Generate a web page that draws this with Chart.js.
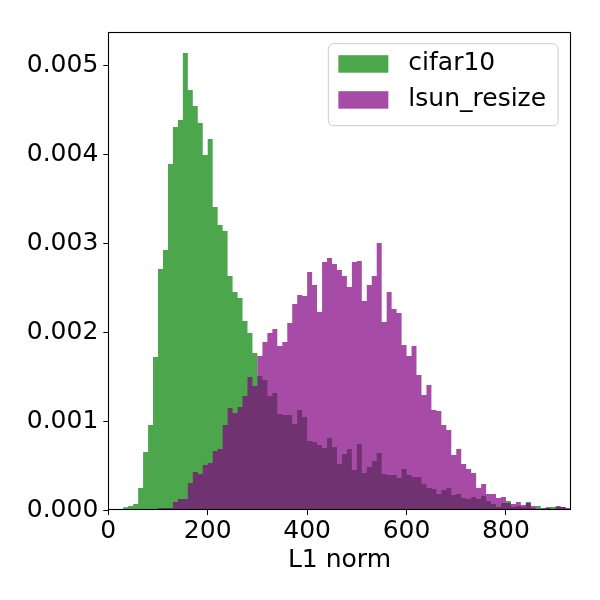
<!DOCTYPE html>
<html>
<head>
<meta charset="utf-8">
<style>
  html, body { margin: 0; padding: 0; background: #ffffff; }
  #wrap { width: 600px; height: 600px; position: relative; }
</style>
<script src="https://cdn.jsdelivr.net/npm/chart.js@4.4.1/dist/chart.umd.min.js"></script>
</head>
<body>
<div id="wrap"><canvas id="c" width="600" height="600"></canvas></div>
<script>
// ---- data ----
const binLeftEdges = [0,10,20,30,40,50,60,70,80,90,100,110,120,130,140,150,160,170,180,190,
  200,210,220,230,240,250,260,270,280,290,300,310,320,330,340,350,360,370,380,390,
  400,410,420,430,440,450,460,470,480,490,500,510,520,530,540,550,560,570,580,590,
  600,610,620,630,640,650,660,670,680,690,700,710,720,730,740,750,760,770,780,790,
  800,810,820,830,840,850,860,870,880,890,900,910,920];
const lastBinRightEdge = 930;

const cifar10 = [0,0,0,0.00003,0.000045,0.000068,0.000248,0.000653,0.000957,0.001723,
  0.002714,0.002928,0.003896,0.004313,0.004392,0.005146,0.00473,0.00455,0.004358,0.003998,
  0.004178,0.003412,0.003209,0.003142,0.002635,0.002455,0.002387,0.002128,0.001993,0.001768,
  0.001509,0.001464,0.001284,0.001318,0.001081,0.00107,0.00107,0.000968,0.001126,0.001047,
  0.000777,0.000766,0.000732,0.000698,0.000811,0.00071,0.000518,0.000631,0.000687,0.00045,
  0.000743,0.000417,0.000484,0.000552,0.000642,0.000405,0.000394,0.000394,0.00036,0.000462,
  0.000394,0.000372,0.000372,0.000293,0.000248,0.000236,0.00018,0.000225,0.000248,0.000169,
  0.00018,0.000135,0.000124,0.000146,0.000124,0.000158,0.000101,0.000068,0.000034,0.000079,
  0.000101,0.000034,0.000045,0.000034,0.00009,0.0000225,0.000045,0.00002,0.000034,0.000034,
  0.000034,0.000034,0];

const lsunResize = [0,0,0,0,0,0,0,0,0.000011,0,
  0.0000225,0.0000225,0.0000225,0.00009,0.000124,0.000124,0.000304,0.000428,0.000405,0.000507,
  0.000529,0.000664,0.000687,0.000957,0.001149,0.001092,0.00116,0.001284,0.001498,0.001396,
  0.001734,0.001892,0.001993,0.002038,0.001847,0.001892,0.002106,0.00232,0.002421,0.00241,
  0.00268,0.002534,0.00223,0.002793,0.002838,0.00277,0.002703,0.002635,0.002511,0.002793,
  0.002804,0.002354,0.002534,0.002635,0.003007,0.002117,0.002455,0.002264,0.002218,0.001858,
  0.001734,0.001847,0.00152,0.001295,0.001408,0.001126,0.001115,0.000957,0.000901,0.000619,
  0.000687,0.000518,0.000462,0.000417,0.000248,0.000293,0.00018,0.00018,0.000135,0.000146,
  0.000079,0.000068,0.00009,0.000056,0.000079,0.000045,0.00001,0.00002,0.0000225,0.00001,
  0.000045,0.000034,0.0000225];

const seriesNames = ['cifar10', 'lsun_resize'];
const xTickValues = [0, 200, 400, 600, 800];
const yTickValues = [0, 0.001, 0.002, 0.003, 0.004, 0.005];
const xAxisTitle = 'L1 norm';
const xMin = 0, xMax = 930;
const yMin = 0, yMax = 0.005386;

// ---- build step-histogram series ----
function histPoints(values) {
  const pts = binLeftEdges.map((x, i) => ({ x: x, y: values[i] }));
  pts.push({ x: lastBinRightEdge, y: values[values.length - 1] });
  return pts;
}

const FONT = '"DejaVu Sans", "Liberation Sans", sans-serif';
const FS = 25;
Chart.defaults.font.family = FONT;
Chart.defaults.font.size = FS;
Chart.defaults.color = '#000000';

const framePlugin = {
  id: 'frame',
  afterDatasetsDraw(chart) {
    const { ctx, chartArea: a } = chart;
    ctx.save();
    ctx.strokeStyle = '#000000';
    ctx.lineWidth = 1.1;
    const l = Math.round(a.left) + 0.5, t = Math.round(a.top) + 0.5;
    const r = Math.round(a.right) - 0.5, b = Math.round(a.bottom) - 0.5;
    ctx.strokeRect(l, t, r - l, b - t);
    ctx.restore();
  }
};

const legendPlugin = {
  id: 'mplLegend',
  afterDraw(chart) {
    const { ctx, chartArea: a } = chart;
    const ds = chart.data.datasets;
    ctx.save();
    ctx.font = FS + 'px ' + FONT;
    const tw = Math.max(...ds.map(d => ctx.measureText(d.label).width));
    const pad = 0.4 * FS, hl = 2 * FS, hp = 0.8 * FS, ls = 0.5 * FS, axpad = 0.5 * FS;
    const rowH = 23.5;
    const w = pad + hl + hp + tw + pad + 2;
    const h = 2 * pad + ds.length * rowH + (ds.length - 1) * ls + 2.5;
    const x = a.right - axpad - w;
    const y = a.top + axpad - 0.5;
    // box
    const rr = 0.2 * FS;
    ctx.beginPath();
    ctx.moveTo(x + rr, y);
    ctx.lineTo(x + w - rr, y);
    ctx.arcTo(x + w, y, x + w, y + rr, rr);
    ctx.lineTo(x + w, y + h - rr);
    ctx.arcTo(x + w, y + h, x + w - rr, y + h, rr);
    ctx.lineTo(x + rr, y + h);
    ctx.arcTo(x, y + h, x, y + h - rr, rr);
    ctx.lineTo(x, y + rr);
    ctx.arcTo(x, y, x + rr, y, rr);
    ctx.closePath();
    ctx.fillStyle = 'rgba(255,255,255,0.8)';
    ctx.fill();
    ctx.strokeStyle = '#cccccc';
    ctx.lineWidth = 1;
    ctx.stroke();
    // entries
    ds.forEach((d, i) => {
      const cy = y + pad + rowH / 2 - 1.5 + i * (rowH + ls);
      const ph = 0.7 * FS;
      ctx.fillStyle = d.backgroundColor;
      ctx.fillRect(x + pad, cy - ph / 2, hl, ph);
      ctx.fillStyle = '#000000';
      ctx.textAlign = 'left';
      ctx.textBaseline = 'middle';
      ctx.fillText(d.label, x + pad + hl + hp, cy);
    });
    ctx.restore();
  }
};

new Chart(document.getElementById('c'), {
  type: 'line',
  data: {
    datasets: [
      {
        label: seriesNames[0],
        data: histPoints(cifar10),
        stepped: true,
        fill: 'origin',
        backgroundColor: 'rgba(0,128,0,0.7)',
        borderColor: 'rgba(0,0,0,0)',
        borderWidth: 0,
        pointRadius: 0,
        order: 2
      },
      {
        label: seriesNames[1],
        data: histPoints(lsunResize),
        stepped: true,
        fill: 'origin',
        backgroundColor: 'rgba(128,0,128,0.7)',
        borderColor: 'rgba(0,0,0,0)',
        borderWidth: 0,
        pointRadius: 0,
        order: 1
      }
    ]
  },
  options: {
    responsive: false,
    animation: false,
    events: [],
    layout: { padding: { left: 0, top: 31.7, right: 29.4, bottom: 0 } },
    plugins: {
      legend: { display: false },
      tooltip: { enabled: false },
      title: { display: false }
    },
    scales: {
      x: {
        type: 'linear',
        min: xMin,
        max: xMax,
        afterFit: s => { s.height = 90; },
        afterBuildTicks: s => { s.ticks = xTickValues.map(v => ({ value: v })); },
        border: { display: false },
        grid: { drawOnChartArea: false, drawTicks: true, tickLength: 5, color: '#000000', lineWidth: 1 },
        ticks: { padding: 1, maxRotation: 0, autoSkip: false, color: '#000000', font: { size: FS },
                 callback: v => String(v) },
        title: { display: true, text: xAxisTitle, color: '#000000', font: { size: FS },
                 padding: { top: 0, bottom: 25 } }
      },
      y: {
        type: 'linear',
        min: yMin,
        max: yMax,
        afterFit: s => { s.width = 108.3; },
        afterBuildTicks: s => { s.ticks = yTickValues.map(v => ({ value: v })); },
        border: { display: false },
        grid: { drawOnChartArea: false, drawTicks: true, tickLength: 5, color: '#000000', lineWidth: 1 },
        ticks: { padding: 5, autoSkip: false, color: '#000000', font: { size: FS },
                 callback: v => Number(v).toFixed(3) }
      }
    }
  },
  plugins: [framePlugin, legendPlugin]
});
</script>
</body>
</html>
